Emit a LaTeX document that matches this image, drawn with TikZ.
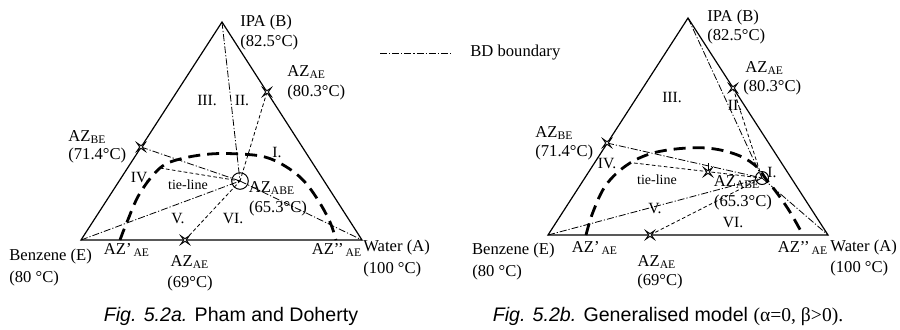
\documentclass[tikz,border=0pt]{standalone}
\usepackage{fontspec}
\setmainfont{Liberation Serif}
\setsansfont{Liberation Sans}
\usetikzlibrary{positioning, shapes.geometric}

\begin{document}
\begin{tikzpicture}[
    x=0.5pt, y=-0.5pt,
    edgeline/.style={line width=0.6pt},
    bdline/.style={line width=0.4pt, dash pattern=on 3.5pt off 1pt on 0.6pt off 1pt},
    tieline/.style={line width=0.4pt, dash pattern=on 1.8pt off 1.2pt},
    envelope/.style={line width=1.4pt, dash pattern=on 6pt off 3.5pt},
    azstar/.style={star, star points=4, star point ratio=0.22, draw, fill=white, line width=0.45pt, minimum size=1.3pt, inner sep=0pt},
    azring/.style={circle, draw, line width=0.5pt, inner sep=0pt},
    lbl/.style={font=\fontsize{8.3}{9.5}\selectfont, inner sep=0pt},
    region/.style={font=\fontsize{7.8}{9}\selectfont, inner sep=0pt},
    tietext/.style={font=\fontsize{7}{8}\selectfont, inner sep=0pt},
    figcap/.style={font=\sffamily\fontsize{9.8}{11}\selectfont, inner sep=0pt}
]
\useasboundingbox (0,0) rectangle (900,329);

% --- Fig. 5.2a ---
\coordinate (B1) at (222,22);
\coordinate (E1) at (81,240);
\coordinate (A1) at (362,240);
\coordinate (T1) at (240,181);
\coordinate (AE1) at (267,92);
\coordinate (BE1) at (141,147);
\coordinate (D1) at (185,240);
\coordinate (K1) at (160,168);

\draw[edgeline] (B1) -- (E1) -- (A1) -- cycle;
\draw[envelope] plot[smooth, tension=0.6] coordinates {(120,240) (127,222) (140,193) (160,168) (180,159) (210,154) (240,154) (265,157) (285,166) (303,180) (318,200) (330,222) (336,240)};

\draw[bdline] (B1) -- (T1);
\draw[bdline] (BE1) -- (T1);
\draw[bdline] (E1) -- (T1);
\draw[bdline] (T1) -- (A1);
\draw[tieline] (AE1) -- (T1);
\draw[tieline] (K1) -- (T1);
\draw[tieline] (D1) -- (T1);

\node[azring, minimum size=8.3pt] (ring1) at (T1) {};
\node[azstar] (star1a) at (AE1) {};
\node[azstar] (star1b) at (BE1) {};
\node[azstar] (star1c) at (D1) {};

\node[lbl, anchor=west] (nB1) at (240,22) {IPA (B)};
\node[lbl, anchor=west] (tB1) at (240,42) {(82.5°C)};
\node[lbl, anchor=west] (nAE1) at (287,72) {AZ\textsubscript{AE}};
\node[lbl, anchor=west] (tAE1) at (287,92) {(80.3°C)};
\node[lbl, anchor=west] (nBE1) at (68,137) {AZ\textsubscript{BE}};
\node[lbl, anchor=west] (tBE1) at (68,155) {(71.4°C)};
\node[lbl, anchor=west] (nE1) at (9,256) {Benzene (E)};
\node[lbl, anchor=west] (tE1) at (9,278) {(80 °C)};
\node[lbl, anchor=west] (nA1) at (363,247) {Water (A)};
\node[lbl, anchor=west] (tA1) at (363,269) {(100 °C)};
\node[lbl] (nP1) at (127,250) {AZ’\textsubscript{\,AE}};
\node[lbl] (nQ1) at (337,250) {AZ’’\textsubscript{\,AE}};
\node[lbl] (nD1) at (190,262) {AZ\textsubscript{AE}};
\node[lbl] (tD1) at (190,283) {(69°C)};
\node[lbl] (nT1) at (272,188) {AZ\textsubscript{ABE}};
\node[lbl] (tT1) at (278,208) {(65.3°C)};

\node[region] (r1a) at (277,152) {I.};
\node[region] (r1b) at (242,100) {II.};
\node[region] (r1c) at (207,100) {III.};
\node[region] (r1d) at (140,177) {IV.};
\node[region] (r1e) at (178,218) {V.};
\node[region] (r1f) at (233,218) {VI.};
\node[tietext] (tie1) at (188,185) {tie-line};

\node[figcap] (cap1) at (231,316) {\textit{Fig. 5.2a.} Pham and Doherty};

% --- legend ---
\coordinate (L1) at (380,53);
\coordinate (L2) at (452,53);
\draw[bdline] (L1) -- (L2);
\node[lbl, anchor=west] (leg) at (470,53) {BD boundary};

% --- Fig. 5.2b ---
\coordinate (B2) at (688,18);
\coordinate (E2) at (548,235);
\coordinate (A2) at (828,235);
\coordinate (T2) at (762,178);
\coordinate (AE2) at (733,88);
\coordinate (BE2) at (607,143);
\coordinate (D2) at (650,235);
\coordinate (K2) at (634,163);
\coordinate (S2) at (708,172);

\draw[edgeline] (B2) -- (E2) -- (A2) -- cycle;
\draw[envelope] plot[smooth, tension=0.6] coordinates {(586,235) (593,212) (606,185) (627,165) (653,153) (687,148) (715,149) (740,156) (757,167) (766,179) (777,193) (790,212) (803,235)};

\draw[bdline] (B2) -- (T2);
\draw[bdline] (BE2) -- (T2);
\draw[bdline] (E2) -- (T2);
\draw[bdline] (T2) -- (A2);
\draw[tieline] (AE2) -- (T2);
\draw[tieline] (K2) -- (T2);
\draw[tieline] (D2) -- (T2);
\draw[line width=0.5pt] (S2) -- ++(0,-9);

\node[azring, minimum size=6.5pt] (ring2) at (T2) {};
\node[azstar] (star2a) at (AE2) {};
\node[azstar] (star2b) at (BE2) {};
\node[azstar] (star2c) at (D2) {};
\node[azstar] (star2d) at (S2) {};

\node[lbl, anchor=west] (nB2) at (707,17) {IPA (B)};
\node[lbl, anchor=west] (tB2) at (707,36) {(82.5°C)};
\node[lbl, anchor=west] (nAE2) at (745,68) {AZ\textsubscript{AE}};
\node[lbl, anchor=west] (tAE2) at (743,87) {(80.3°C)};
\node[lbl, anchor=west] (nBE2) at (535,133) {AZ\textsubscript{BE}};
\node[lbl, anchor=west] (tBE2) at (535,152) {(71.4°C)};
\node[lbl, anchor=east] (nE2) at (555,250) {Benzene (E)};
\node[lbl, anchor=west] (tE2) at (472,272) {(80 °C)};
\node[lbl, anchor=west] (nA2) at (830,247) {Water (A)};
\node[lbl, anchor=west] (tA2) at (830,268) {(100 °C)};
\node[lbl] (nP2) at (595,248) {AZ’\textsubscript{\,AE}};
\node[lbl] (nQ2) at (803,248) {AZ’’\textsubscript{\,AE}};
\node[lbl] (nD2) at (657,262) {AZ\textsubscript{AE}};
\node[lbl] (tD2) at (660,281) {(69°C)};
\node[lbl] (nT2) at (737,182) {AZ\textsubscript{ABE}};
\node[lbl] (tT2) at (743,202) {(65.3°C)};

\node[region] (r2a) at (772,172) {I.};
\node[region] (r2b) at (735,105) {II.};
\node[region] (r2c) at (672,97) {III.};
\node[region] (r2d) at (607,163) {IV.};
\node[region] (r2e) at (655,208) {V.};
\node[region] (r2f) at (733,222) {VI.};
\node[tietext] (tie2) at (657,180) {tie-line};

\node[figcap] (cap2) at (668,316) {\textit{Fig. 5.2b.} Generalised model {\rmfamily (α=0, β>0).}};

\end{tikzpicture}
\end{document}
